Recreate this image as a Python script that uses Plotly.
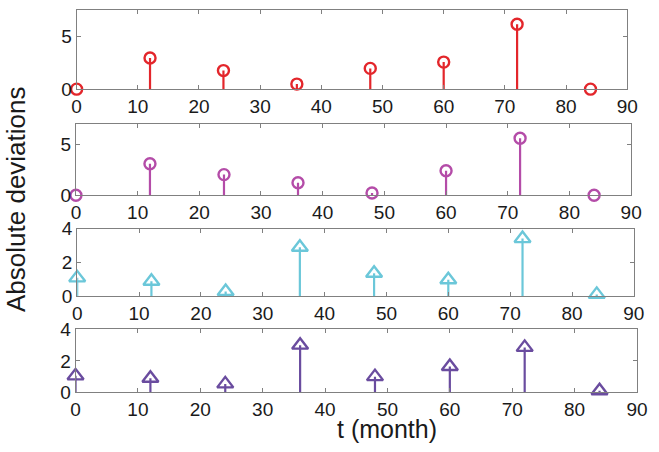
import plotly.graph_objects as go

# ---- data ----
t = [0, 12, 24, 36, 48, 60, 72, 84]
dev_red = [0.0, 2.97, 1.77, 0.48, 1.98, 2.58, 6.19, 0.0]
dev_magenta = [0.0, 3.11, 2.04, 1.23, 0.22, 2.42, 5.63, 0.0]
dev_cyan = [1.08, 0.88, 0.27, 2.90, 1.35, 0.97, 3.41, 0.10]
dev_purple = [1.05, 0.90, 0.54, 3.00, 1.00, 1.64, 2.86, 0.10]

series = [dev_red, dev_magenta, dev_cyan, dev_purple]
colors = ["#e3262b", "#b44ca8", "#6bc7d9", "#6a4c9f"]
symbols = ["circle-open", "circle-open", "triangle-up-open", "triangle-up-open"]
yranges = [[0, 7.5], [0, 7], [0, 4], [0, 4]]
ydticks = [5, 5, 2, 2]
xtick_vals = [0, 10, 20, 30, 40, 50, 60, 70, 80, 90]
y_title = "Absolute deviations"
x_title = "t (month)"

W, H = 659, 452
# panel boxes in pixels: (left, right, top, bottom)
boxes = [(73.4, 637.7, 0.5, 83.0),
         (72.7, 641.7, 120.0, 194.3),
         (74.0, 644.5, 229.3, 300.0),
         (72.3, 647.7, 335.0, 401.0)]

FONT = "Liberation Sans, Arial, Helvetica, sans-serif"
fig = go.Figure()

for i, (vals, col, sym) in enumerate(zip(series, colors, symbols)):
    k = "" if i == 0 else str(i + 1)
    sx = []
    sy = []
    for x, v in zip(t, vals):
        sx += [x, x, None]
        sy += [0, v, None]
    fig.add_trace(go.Scatter(x=sx, y=sy, mode="lines", xaxis="x" + k, yaxis="y" + k,
                             line=dict(color=col, width=2.2), hoverinfo="skip",
                             showlegend=False))
    msize = 11 if "circle" in sym else 14
    fig.add_trace(go.Scatter(x=t, y=vals, mode="markers", xaxis="x" + k, yaxis="y" + k,
                             marker=dict(symbol=sym, size=msize, color=col,
                                         line=dict(color=col, width=2.4)),
                             cliponaxis=False, showlegend=False))

layout = dict(width=W, height=H, margin=dict(l=0, r=0, t=0, b=0),
              paper_bgcolor="white", plot_bgcolor="white",
              font=dict(family=FONT, size=19, color="#1a1a1a"))

for i, (l, r, tp, bt) in enumerate(boxes):
    k = "" if i == 0 else str(i + 1)
    layout["xaxis" + k] = dict(domain=[l / W, r / W], anchor="y" + k, range=[0, 90],
                               tickvals=xtick_vals, ticks="inside", ticklen=4,
                               tickcolor="#808080", showline=True, linecolor="#808080",
                               linewidth=1, mirror="ticks", showgrid=False, zeroline=False,
                               tickfont=dict(family=FONT, size=19, color="#1a1a1a"))
    layout["yaxis" + k] = dict(domain=[1 - bt / H, 1 - tp / H], anchor="x" + k,
                               range=yranges[i], dtick=ydticks[i], tick0=0,
                               ticks="inside", ticklen=4, tickcolor="#808080",
                               showline=True, linecolor="#808080", linewidth=1,
                               mirror="ticks", showgrid=False, zeroline=False,
                               tickfont=dict(family=FONT, size=19, color="#1a1a1a"))

fig.update_layout(**layout)

fig.add_annotation(text=y_title, xref="paper", yref="paper", x=12 / W, y=1 - 198.5 / H,
                   textangle=-90, showarrow=False, xanchor="center", yanchor="middle",
                   font=dict(family=FONT, size=26, color="#1a1a1a"))
fig.add_annotation(text=x_title, xref="paper", yref="paper", x=392 / W, y=1 - 439 / H,
                   showarrow=False, xanchor="center", yanchor="middle",
                   font=dict(family=FONT, size=25, color="#1a1a1a"))

fig.write_html("out.html", post_script="document.body.style.margin='0px';",
               config={"displayModeBar": False})
